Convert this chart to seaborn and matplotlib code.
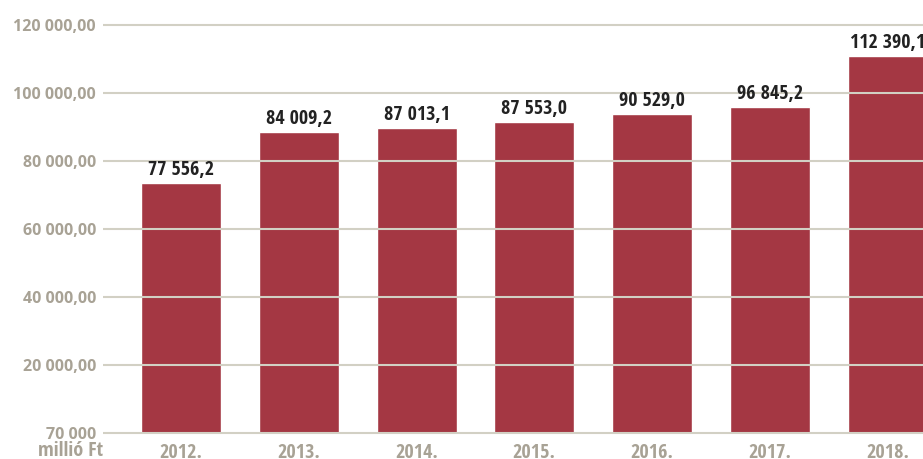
import matplotlib
matplotlib.use("Agg")
import matplotlib.pyplot as plt
from matplotlib import font_manager as fm
import pandas as pd
import seaborn as sns

# data
years = ["2012.", "2013.", "2014.", "2015.", "2016.", "2017.", "2018."]
bar_heights = [73500, 88500, 89650, 91400, 93750, 95850, 110800]
label_values = [77556.2, 84009.2, 87013.1, 87553.0, 90529.0, 96845.2, 112390.1]
y_ticks = [0, 20000, 40000, 60000, 80000, 100000, 120000]
y_tick_labels = ["70 000", "20 000,00", "40 000,00", "60 000,00",
                 "80 000,00", "100 000,00", "120 000,00"]
unit_label = "millió Ft"

BAR_COLOR = "#a43743"
GRID_COLOR = "#d2d0c4"
TICK_COLOR = "#a8a295"
LABEL_COLOR = "#222222"


def hu_format(value):
    """Hungarian style: space as thousands separator, comma as decimal mark."""
    return f"{value:,.1f}".replace(",", " ").replace(".", ",")


def condensed_bold_file():
    """Find an installed condensed/narrow bold face, best match first."""
    prefs = ["open sans", "noto sans", "roboto", "dejavu sans", "liberation sans"]
    hits = []
    for f in fm.fontManager.ttflist:
        name = f.name.lower()
        stretch = str(f.stretch).lower()
        narrow = ("condensed" in stretch or "narrow" in name
                  or "condensed" in name or "cond" in f.fname.lower())
        if "extra" in stretch or "ultra" in stretch or "extra" in f.fname.lower():
            continue
        try:
            weight = int(f.weight)
        except (TypeError, ValueError):
            weight = 700 if "bold" in str(f.weight).lower() else 400
        if not narrow or weight < 600 or f.style != "normal":
            continue
        rank = next((i for i, p in enumerate(prefs) if name.startswith(p)), 99)
        hits.append((rank, abs(weight - 700), f.fname))
    if not hits:
        return None
    return sorted(hits)[0][2]


cond_file = condensed_bold_file()


def narrow_font(size):
    if cond_file:
        return fm.FontProperties(fname=cond_file, size=size)
    return fm.FontProperties(family="DejaVu Sans", weight="bold", size=size)


sns.set_style("white")

df = pd.DataFrame({"year": years, "height": bar_heights})

fig = plt.figure(figsize=(9.23, 4.59), dpi=100)
ax = fig.add_axes([103 / 923, 0.0529, 1 - 103 / 923, 1 - 0.0529])

sns.barplot(data=df, x="year", y="height", color=BAR_COLOR, width=0.68,
            saturation=1, ax=ax)

bar_texts = ax.bar_label(ax.containers[0],
                         labels=[hu_format(v) for v in label_values],
                         padding=2, color=LABEL_COLOR)
for t in bar_texts:
    t.set_fontproperties(narrow_font(14.4))

ax.set_ylim(-600, 127300)
ax.set_xlim(-0.663, 6.30)
ax.set_yticks(y_ticks)
ax.set_yticklabels(y_tick_labels, family=["Open Sans", "DejaVu Sans"],
                   fontweight="bold", fontsize=11.5, color=TICK_COLOR)
ax.set_xticks(range(len(years)))
ax.set_xticklabels(years, color=TICK_COLOR)
for t in ax.get_xticklabels():
    t.set_fontproperties(narrow_font(14.5))
ax.tick_params(axis="y", length=0, pad=5)
ax.tick_params(axis="x", length=0, pad=6)
ax.set_xlabel("")
ax.set_ylabel("")

ax.yaxis.grid(True, color=GRID_COLOR, linewidth=1.5)
ax.xaxis.grid(False)
ax.set_axisbelow(False)
for spine in ax.spines.values():
    spine.set_visible(False)

fig.text(103 / 923, 1 - 441 / 459, unit_label, ha="right", va="top",
         color=TICK_COLOR, fontproperties=narrow_font(14.5))

fig.savefig("out.png", dpi=100)
plt.close(fig)
